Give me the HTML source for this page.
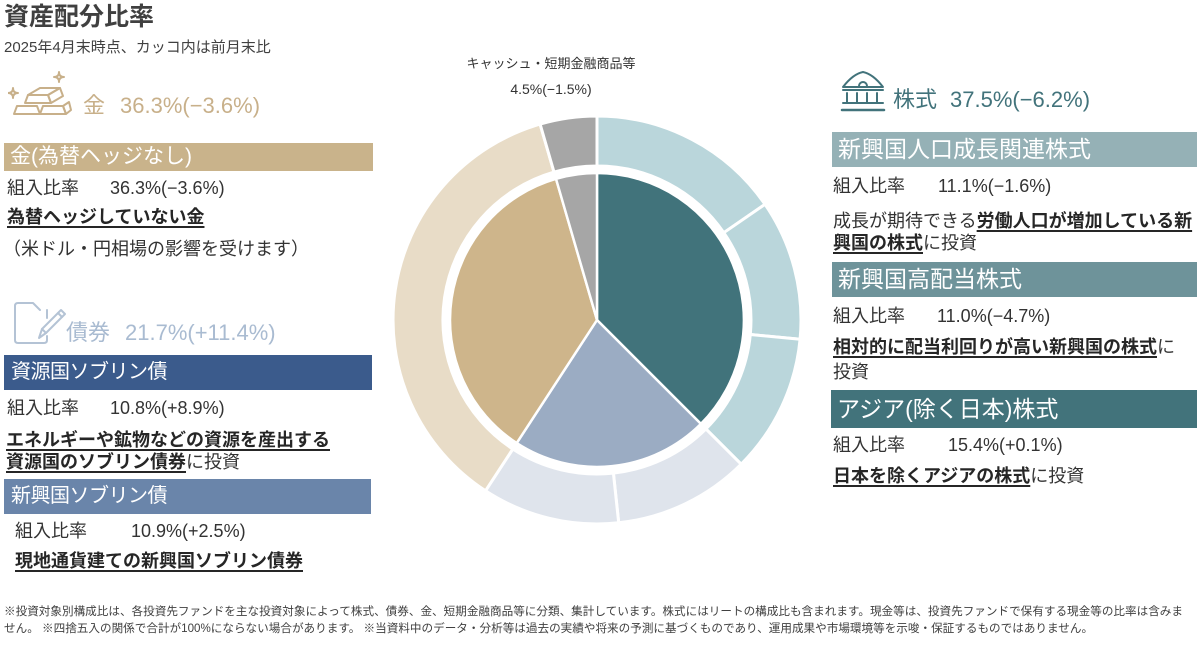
<!DOCTYPE html>
<html lang="ja">
<head>
<meta charset="utf-8">
<style>
  html,body{margin:0;padding:0;background:#fff;}
  body{width:1201px;height:645px;position:relative;overflow:hidden;
       font-family:"Liberation Sans","Noto Sans CJK JP",sans-serif;color:#333;}
  .t{position:absolute;white-space:nowrap;}
  .u{font-weight:bold;text-decoration:underline;text-decoration-thickness:1.5px;text-underline-offset:3px;color:#262626;}
  .box{position:absolute;color:#fff;white-space:nowrap;box-sizing:border-box;}
  .b18{font-size:18px;line-height:22px;}
</style>
</head>
<body>

<!-- Title -->
<div class="t" style="left:4px;top:2px;font-size:25px;line-height:30px;font-weight:bold;color:#404040;">資産配分比率</div>
<div class="t" style="left:4px;top:38px;font-size:15px;line-height:19px;color:#404040;">2025年4月末時点、カッコ内は前月末比</div>

<!-- Gold icon -->
<svg style="position:absolute;left:8px;top:68px;" width="66" height="50" viewBox="0 0 66 50" fill="none" stroke="#c8b08a" stroke-width="2" stroke-linejoin="round">
  <path d="M5,20 Q5,25 10,25 Q5,25 5,30 Q5,25 0,25 Q5,25 5,20 Z"/>
  <path d="M51,4 Q51,9 56,9 Q51,9 51,14 Q51,9 46,9 Q51,9 51,4 Z"/>
  <path d="M20,27 L32,20 L52,20 L40,27 Z"/>
  <path d="M17,35 L20,27 L40,27 L43,35 Z"/>
  <path d="M43,35 L40,27 L52,20 L55,28 Z"/>
  <path d="M6,46 L9,38 L29,38 L32,46 Z"/>
  <path d="M32,46 L35,38 L55,38 L58,46 Z"/>
  <path d="M58,46 L55,38 L61,34 L63,42 Z"/>
</svg>
<div class="t" style="left:83px;top:93px;font-size:22px;line-height:26px;color:#c8b08a;">金</div>
<div class="t" style="left:120px;top:93px;font-size:22px;line-height:26px;color:#c8b08a;">36.3%(−3.6%)</div>

<!-- Gold header -->
<div class="box" style="left:4px;top:143px;width:369px;height:28px;background:#c9b38b;font-size:21px;line-height:28px;padding-left:6px;">金(為替ヘッジなし)</div>
<div class="t b18" style="left:7px;top:177px;">組入比率</div>
<div class="t b18" style="left:110px;top:177px;">36.3%(−3.6%)</div>
<div class="t b18 u" style="left:7px;top:206px;">為替ヘッジしていない金</div>
<div class="t b18" style="left:3px;top:238px;">（米ドル・円相場の影響を受けます）</div>

<!-- Bonds icon -->
<svg style="position:absolute;left:12px;top:298px;" width="56" height="50" viewBox="0 0 56 50" fill="none" stroke="#b4c3d5" stroke-width="2" stroke-linejoin="round" stroke-linecap="round">
  <path d="M28,12 L21,5 L6,5 Q3,5 3,8 L3,42 Q3,45 6,45 L32,45 Q35,45 35,42 L35,38"/>
  <path d="M35,12 L35,20"/>
  <path d="M30,31 L49,12 L53,16 L34,35 Z"/>
  <path d="M30,31 L27,40 L34,35"/>
  <path d="M46,15 L50,19"/>
</svg>
<div class="t" style="left:66px;top:320px;font-size:22px;line-height:26px;color:#a9bbd1;">債券</div>
<div class="t" style="left:125px;top:320px;font-size:22px;line-height:26px;color:#a9bbd1;">21.7%(+11.4%)</div>

<div class="box" style="left:4px;top:355px;width:368px;height:35px;background:#3b5b8c;font-size:20px;letter-spacing:-0.5px;line-height:35px;padding-left:7px;">資源国ソブリン債</div>
<div class="t b18" style="left:7px;top:397px;">組入比率</div>
<div class="t b18" style="left:110px;top:397px;">10.8%(+8.9%)</div>
<div class="t b18 u" style="left:6px;top:429px;">エネルギーや鉱物などの資源を産出する</div>
<div class="t b18" style="left:6px;top:451px;"><span class="u">資源国のソブリン債券</span>に投資</div>

<div class="box" style="left:4px;top:479px;width:367px;height:35px;background:#6a85aa;font-size:20px;letter-spacing:-0.5px;line-height:35px;padding-left:7px;">新興国ソブリン債</div>
<div class="t b18" style="left:15px;top:520px;">組入比率</div>
<div class="t b18" style="left:131px;top:520px;">10.9%(+2.5%)</div>
<div class="t b18 u" style="left:15px;top:550px;">現地通貨建ての新興国ソブリン債券</div>

<!-- Center label -->
<div class="t" style="left:451px;width:200px;text-align:center;top:55px;font-size:13px;line-height:18px;">キャッシュ・短期金融商品等</div>
<div class="t" style="left:451px;width:200px;text-align:center;top:80px;font-size:14px;line-height:18px;">4.5%(−1.5%)</div>

<!-- Donut -->
<svg style="position:absolute;left:0;top:0;" width="1201" height="645" viewBox="0 0 1201 645">
  <g stroke="#fff" stroke-width="3" stroke-linejoin="miter">
    <path fill="#bad6db" d="M597,166 L597,116 A204,204 0 0 1 765.0,204.3 L723.8,232.7 A154,154 0 0 0 597,166 Z"/>
    <path fill="#bad6db" d="M723.8,232.7 L765.0,204.3 A204,204 0 0 1 800.1,339.2 L750.3,334.5 A154,154 0 0 0 723.8,232.7 Z"/>
    <path fill="#bad6db" d="M750.3,334.5 L800.1,339.2 A204,204 0 0 1 741.2,464.2 L705.9,428.9 A154,154 0 0 0 750.3,334.5 Z"/>
    <path fill="#dfe4ec" d="M705.9,428.9 L741.2,464.2 A204,204 0 0 1 618.7,522.8 L613.4,473.1 A154,154 0 0 0 705.9,428.9 Z"/>
    <path fill="#dfe4ec" d="M613.4,473.1 L618.7,522.8 A204,204 0 0 1 485.5,490.8 L512.8,449.0 A154,154 0 0 0 613.4,473.1 Z"/>
    <path fill="#e8dcc7" d="M512.8,449.0 L485.5,490.8 A204,204 0 0 1 540.1,124.1 L554.0,172.1 A154,154 0 0 0 512.8,449.0 Z"/>
    <path fill="#a6a6a6" d="M554.0,172.1 L540.1,124.1 A204,204 0 0 1 597,116 L597,166 A154,154 0 0 0 554.0,172.1 Z"/>
  </g>
  <g stroke="#fff" stroke-width="2.5" stroke-linejoin="round">
    <path fill="#41737b" d="M597,320 L597,173 A147,147 0 0 1 700.9,423.9 Z"/>
    <path fill="#9bacc3" d="M597,320 L700.9,423.9 A147,147 0 0 1 516.7,443.1 Z"/>
    <path fill="#ceb58b" d="M597,320 L516.7,443.1 A147,147 0 0 1 556.0,178.8 Z"/>
    <path fill="#a6a6a6" d="M597,320 L556.0,178.8 A147,147 0 0 1 597,173 Z"/>
  </g>
</svg>

<!-- Equity icon -->
<svg style="position:absolute;left:838px;top:66px;" width="50" height="48" viewBox="0 0 50 48" fill="none" stroke="#42737b" stroke-width="2" stroke-linecap="round" stroke-linejoin="round">
  <path d="M5,21 Q15,8 25,6 Q35,8 45,21 Z"/>
  <path d="M21,20 A4,4 0 0 1 29,20"/>
  <path d="M5,24 L45,24"/>
  <path d="M9,27 L9,37 M19,27 L19,37 M29,27 L29,37 M39,27 L39,37"/>
  <path d="M5,37 L45,37"/>
  <path d="M4,44 L46,44" stroke-width="2.5"/>
</svg>
<div class="t" style="left:893px;top:87px;font-size:22px;line-height:26px;color:#42737b;">株式</div>
<div class="t" style="left:950px;top:87px;font-size:22px;line-height:26px;color:#42737b;">37.5%(−6.2%)</div>

<div class="box" style="left:832px;top:132px;width:365px;height:35px;background:#95b1b6;font-size:23px;line-height:35px;padding-left:6px;">新興国人口成長関連株式</div>
<div class="t b18" style="left:833px;top:175px;">組入比率</div>
<div class="t b18" style="left:938px;top:175px;">11.1%(−1.6%)</div>
<div class="t b18" style="left:833px;top:210px;">成長が期待できる<span class="u">労働人口が増加している新</span></div>
<div class="t b18" style="left:833px;top:232px;"><span class="u">興国の株式</span>に投資</div>

<div class="box" style="left:832px;top:262px;width:365px;height:35px;background:#6e939a;font-size:23px;line-height:35px;padding-left:6px;">新興国高配当株式</div>
<div class="t b18" style="left:833px;top:305px;">組入比率</div>
<div class="t b18" style="left:937px;top:305px;">11.0%(−4.7%)</div>
<div class="t b18" style="left:833px;top:336px;"><span class="u">相対的に配当利回りが高い新興国の株式</span>に</div>
<div class="t b18" style="left:833px;top:361px;">投資</div>

<div class="box" style="left:831px;top:390px;width:366px;height:38px;background:#42737b;font-size:23px;line-height:38px;padding-left:6px;">アジア(除く日本)株式</div>
<div class="t b18" style="left:833px;top:434px;">組入比率</div>
<div class="t b18" style="left:948px;top:434px;">15.4%(+0.1%)</div>
<div class="t b18" style="left:833px;top:465px;"><span class="u">日本を除くアジアの株式</span>に投資</div>

<!-- Footer -->
<div class="t" style="left:4px;top:604px;font-size:11.6px;line-height:16px;color:#404040;">※投資対象別構成比は、各投資先ファンドを主な投資対象によって株式、債券、金、短期金融商品等に分類、集計しています。株式にはリートの構成比も含まれます。現金等は、投資先ファンドで保有する現金等の比率は含みま</div>
<div class="t" style="left:4px;top:621px;font-size:11.6px;line-height:16px;color:#404040;">せん。 ※四捨五入の関係で合計が100%にならない場合があります。 ※当資料中のデータ・分析等は過去の実績や将来の予測に基づくものであり、運用成果や市場環境等を示唆・保証するものではありません。</div>

</body>
</html>
